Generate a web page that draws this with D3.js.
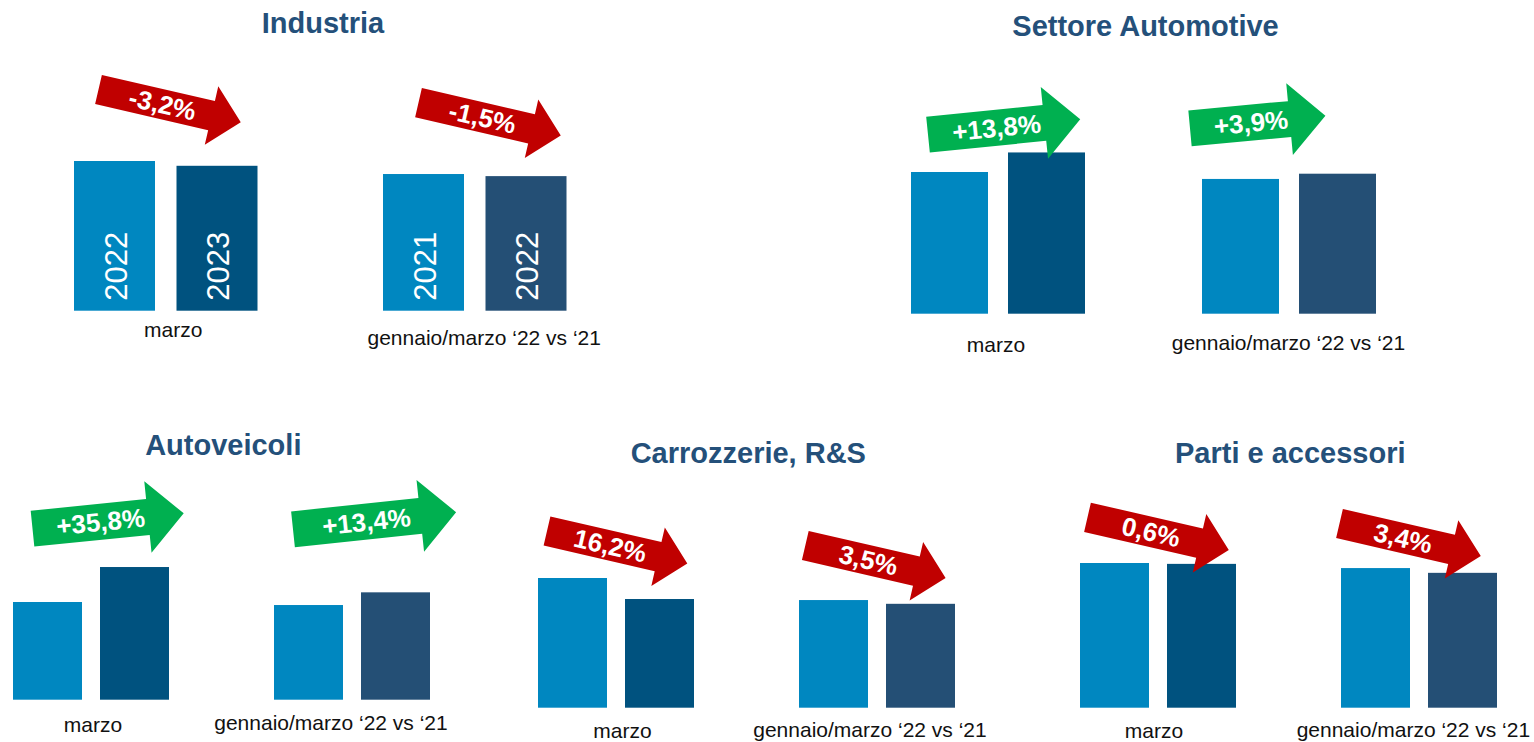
<!DOCTYPE html>
<html>
<head>
<meta charset="utf-8">
<script src="https://cdn.jsdelivr.net/npm/d3@7"></script>
<style>
  body { margin: 0; background: #fff; }
  svg { display: block; font-family: "Liberation Sans", Arial, sans-serif; }
</style>
</head>
<body>
<div id="root"></div>
<script>
// titoli dei pannelli e periodi
var panels = ["Industria", "Settore Automotive", "Autoveicoli", "Carrozzerie, R&S", "Parti e accessori"];
var periods = ["marzo", "gennaio/marzo \u201822 vs \u201821"];

// indici (marzo anno precedente = 100): [marzo a-1, marzo a, gen/mar a-1, gen/mar a]
var industria = [100, 96.8, 91.3, 89.9];
var automotive = [100, 113.8, 95.1, 98.8];
var autoveicoli = [100, 135.8, 96.9, 109.9];
var carrozzerie = [100, 83.8, 83.0, 80.1];
var parti = [100, 99.4, 96.5, 93.2];

// variazioni nelle frecce
var industriaVar = ["-3,2%", "-1,5%"];
var automotiveVar = ["+13,8%", "+3,9%"];
var autoveicoliVar = ["+35,8%", "+13,4%"];
var carrozzerieVar = ["16,2%", "3,5%"];
var partiVar = ["0,6%", "3,4%"];

// etichette anni (solo Industria)
var industriaYears = ["2022", "2023", "2021", "2022"];

var values = [industria, automotive, autoveicoli, carrozzerie, parti];
var changes = [industriaVar, automotiveVar, autoveicoliVar, carrozzerieVar, partiVar];

var colLight = "#0087c0",
    colDark = ["#00527f", "#244f75"],
    colTitle = "#24507a",
    colUp = "#00b050",
    colDown = "#c00000";

// layout dei pannelli
var layout = [
  { x0: 74, barW: 81, gap: 21.5, step: 309, base: 310.7, h100: 149.7, tx: 323, ty: 33.3,
    ldx: [7.5, 9.5], ldy: [26, 34.3],
    arrows: [{ dx: 24.5, dy: -221.2, L: 146, a: 13 }, { dx: 35.5, dy: -208, L: 146, a: 13 }] },
  { x0: 911, barW: 77, gap: 20, step: 291, base: 313.7, h100: 141.7, tx: 1145.5, ty: 35.7,
    ldx: [-2, -0.5], ldy: [38, 36.3],
    arrows: [{ dx: 17, dy: -179, L: 153, a: -5.8 }, { dx: -12, dy: -185.4, L: 136, a: -5.3 }] },
  { x0: 13, barW: 69, gap: 18, step: 261, base: 699.7, h100: 97.7, tx: 223.3, ty: 455,
    ldx: [2, -21], ldy: [32, 30.3],
    arrows: [{ dx: 19.5, dy: -171, L: 152, a: -5.8 }, { dx: 19, dy: -170.4, L: 164, a: -6 }] },
  { x0: 538, barW: 69, gap: 18, step: 261, base: 707.7, h100: 129.7, tx: 748.3, ty: 463.3,
    ldx: [6.5, -7], ldy: [30.5, 29],
    arrows: [{ dx: 9, dy: -176.7, L: 144, a: 13 }, { dx: 6.3, dy: -162.2, L: 144, a: 13 }] },
  { x0: 1080, barW: 69, gap: 18, step: 261, base: 707.7, h100: 144.7, tx: 1290.3, ty: 463.3,
    ldx: [-4, -5.6], ldy: [30.5, 29.3],
    arrows: [{ dx: 7.5, dy: -190.4, L: 145, a: 13 }, { dx: -1.5, dy: -184.2, L: 145, a: 13 }] }
];

var svg = d3.select("#root")
  .append("svg")
  .attr("width", 1534)
  .attr("height", 742);

function arrowPath(L, t) {
  var h = t;
  return "M0," + (-t / 2) + "L" + (L - h) + "," + (-t / 2) + "L" + (L - h) + "," + (-t) +
    "L" + L + ",0L" + (L - h) + "," + t + "L" + (L - h) + "," + (t / 2) + "L0," + (t / 2) + "Z";
}

panels.forEach(function (title, p) {
  var lay = layout[p];
  var vals = values[p];

  var x = d3.scaleBand()
    .domain(periods)
    .range([lay.x0, lay.x0 + lay.step * 2])
    .paddingInner(0)
    .paddingOuter(0);
  var xInner = d3.scaleBand()
    .domain([0, 1])
    .range([0, lay.barW * 2 + lay.gap])
    .paddingInner(lay.gap / (lay.barW + lay.gap));
  var y = d3.scaleLinear()
    .domain([0, 100])
    .range([lay.base, lay.base - lay.h100]);

  var g = svg.append("g").attr("class", "panel");

  g.append("text")
    .attr("x", lay.tx)
    .attr("y", lay.ty)
    .attr("text-anchor", "middle")
    .style("font-size", "29px")
    .style("font-weight", "bold")
    .style("fill", colTitle)
    .text(title);

  var data = vals.map(function (v, i) {
    return { period: periods[Math.floor(i / 2)], k: i % 2, g: Math.floor(i / 2), v: v, i: i };
  });

  g.selectAll(".bar")
    .data(data)
    .enter()
    .append("rect")
    .attr("class", "bar")
    .attr("x", function (d) { return x(d.period) + xInner(d.k); })
    .attr("y", function (d) { return y(d.v); })
    .attr("width", xInner.bandwidth())
    .attr("height", function (d) { return y(0) - y(d.v); })
    .style("fill", function (d) { return d.k === 0 ? colLight : colDark[d.g]; });

  if (p === 0) {
    g.selectAll(".year")
      .data(data)
      .enter()
      .append("text")
      .attr("class", "year")
      .attr("transform", function (d) {
        var cx = x(d.period) + xInner(d.k) + xInner.bandwidth() / 2 + 12;
        return "translate(" + cx + "," + (y(0) - 10) + ") rotate(-90)";
      })
      .style("font-size", "31px")
      .style("fill", "#fff")
      .text(function (d) { return industriaYears[d.i]; });
  }

  // etichette periodi
  g.selectAll(".period")
    .data(periods)
    .enter()
    .append("text")
    .attr("class", "period")
    .attr("x", function (d, i) {
      return x(d) + (lay.barW * 2 + lay.gap) / 2 + lay.ldx[i];
    })
    .attr("y", function (d, i) { return y(0) + lay.ldy[i]; })
    .attr("text-anchor", "middle")
    .style("font-size", "21px")
    .style("fill", "#111")
    .text(function (d) { return d; });

  // frecce di variazione
  var arr = g.selectAll(".arrow")
    .data(periods)
    .enter()
    .append("g")
    .attr("class", "arrow")
    .attr("transform", function (d, i) {
      var a = lay.arrows[i];
      return "translate(" + (x(d) + a.dx) + "," + (y(0) + a.dy) + ") rotate(" + a.a + ")";
    });

  arr.append("path")
    .attr("d", function (d, i) {
      var a = lay.arrows[i];
      return arrowPath(a.L, a.a < 0 ? 36 : 30);
    })
    .style("fill", function (d, i) { return lay.arrows[i].a < 0 ? colUp : colDown; });

  arr.append("text")
    .attr("x", function (d, i) { return lay.arrows[i].L * 0.45; })
    .attr("y", 0)
    .attr("dy", "0.35em")
    .attr("text-anchor", "middle")
    .style("font-size", "26px")
    .style("font-weight", "bold")
    .style("fill", "#fff")
    .text(function (d, i) { return changes[p][i]; });
});
</script>
</body>
</html>
